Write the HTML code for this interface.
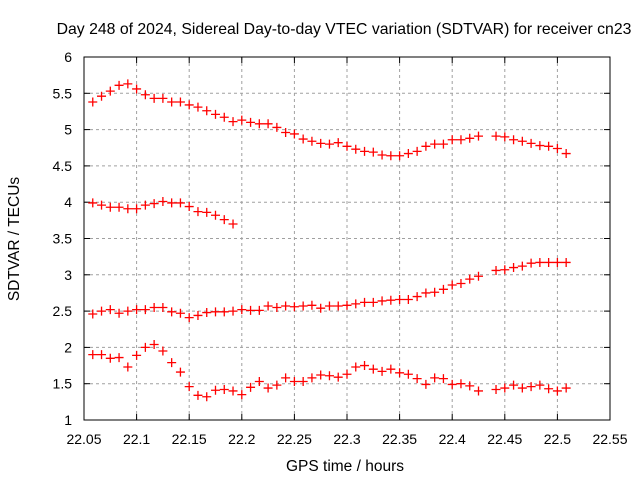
<!DOCTYPE html>
<html><head><meta charset="utf-8"><style>
html,body{margin:0;padding:0;background:#fff;}
svg{display:block;font-family:"Liberation Sans",sans-serif;}
</style></head><body>
<svg id="chart" width="640" height="480">
<text x="344" y="34" text-anchor="middle" font-size="15.8">Day 248 of 2024, Sidereal Day-to-day VTEC variation (SDTVAR) for receiver cn23</text>
<text x="345" y="471" text-anchor="middle" font-size="15.5">GPS time / hours</text>
<text transform="translate(19,239) rotate(-90)" text-anchor="middle" font-size="15.5">SDTVAR / TECUs</text>
<g id="grid"></g><g id="axes"></g><g id="marks"></g>
</svg>
<script>
const xTicks=[22.05,22.1,22.15,22.2,22.25,22.3,22.35,22.4,22.45,22.5,22.55];
const xTickLabels=["22.05","22.1","22.15","22.2","22.25","22.3","22.35","22.4","22.45","22.5","22.55"];
const yTicks=[1,1.5,2,2.5,3,3.5,4,4.5,5,5.5,6];
const yTickLabels=["1","1.5","2","2.5","3","3.5","4","4.5","5","5.5","6"];
const tStart=22.05833, tStep=1/120;
const seriesA=[5.38,5.46,5.53,5.61,5.63,5.56,5.48,5.43,5.43,5.38,5.38,5.34,5.31,5.26,5.21,5.17,5.11,5.13,5.10,5.08,5.08,5.03,4.96,4.94,4.87,4.84,4.81,4.80,4.82,4.77,4.73,4.70,4.69,4.65,4.64,4.64,4.67,4.70,4.77,4.80,4.80,4.86,4.86,4.88,4.91,null,4.91,4.90,4.86,4.84,4.81,4.78,4.77,4.74,4.67];
const seriesB=[3.99,3.96,3.93,3.93,3.91,3.91,3.96,3.98,4.01,3.99,3.99,3.94,3.87,3.86,3.82,3.76,3.70];
const seriesC=[2.46,2.50,2.52,2.47,2.50,2.52,2.52,2.55,2.55,2.49,2.47,2.41,2.44,2.48,2.49,2.49,2.50,2.52,2.51,2.51,2.57,2.55,2.57,2.56,2.57,2.58,2.54,2.57,2.57,2.58,2.60,2.62,2.62,2.64,2.65,2.66,2.66,2.70,2.75,2.76,2.80,2.86,2.88,2.94,2.98,null,3.06,3.07,3.10,3.12,3.16,3.17,3.17,3.17,3.17];
const seriesD=[1.90,1.90,1.85,1.86,1.73,1.89,2.00,2.04,1.95,1.79,1.66,1.46,1.34,1.32,1.41,1.42,1.40,1.35,1.45,1.53,1.44,1.48,1.58,1.53,1.53,1.58,1.62,1.61,1.59,1.63,1.73,1.75,1.70,1.67,1.70,1.65,1.63,1.57,1.49,1.58,1.57,1.49,1.50,1.47,1.40,null,1.42,1.44,1.48,1.44,1.46,1.48,1.43,1.40,1.44];

const X0=84,X1=610,Y0=420,Y1=57;
const xs=v=>X0+(v-22.05)/(0.5)*(X1-X0);
const ys=v=>Y0-(v-1)/5*(Y0-Y1);
const NS="http://www.w3.org/2000/svg";
function mk(tag,attrs,parent){const e=document.createElementNS(NS,tag);for(const k in attrs)e.setAttribute(k,attrs[k]);parent.appendChild(e);return e;}
const grid=document.getElementById('grid'),axes=document.getElementById('axes'),marks=document.getElementById('marks');
xTicks.forEach((t,i)=>{const x=xs(t);
 if(i>0&&i<xTicks.length-1){const g=mk('line',{x1:x,x2:x,y1:Y1,y2:Y0,stroke:'#a0a0a0','stroke-dasharray':'3,3'},grid);
 
 }
 mk('line',{x1:x,x2:x,y1:Y0,y2:Y0-6,stroke:'#000'},axes);
 mk('line',{x1:x,x2:x,y1:Y1,y2:Y1+6,stroke:'#000'},axes);
 const tx=mk('text',{x:x,y:Y0+24,'text-anchor':'middle','font-size':'14'},axes);tx.textContent=xTickLabels[i];
 
 
});
yTicks.forEach((t,i)=>{const y=ys(t);
 if(i>0&&i<yTicks.length-1){const g=mk('line',{x1:X0,x2:X1,y1:y,y2:y,stroke:'#a0a0a0','stroke-dasharray':'3,3'},grid);
 
 }
 mk('line',{x1:X0,x2:X0+6,y1:y,y2:y,stroke:'#000'},axes);
 mk('line',{x1:X1,x2:X1-6,y1:y,y2:y,stroke:'#000'},axes);
 const tx=mk('text',{x:X0-12,y:y+5,'text-anchor':'end','font-size':'14'},axes);tx.textContent=yTickLabels[i];
 
 
});
const fr=mk('rect',{x:X0,y:Y1,width:X1-X0,height:Y0-Y1,fill:'none',stroke:'#000','stroke-width':1},axes);


[seriesA,seriesB,seriesC,seriesD].forEach((s,si)=>{
 s.forEach((v,i)=>{ if(v===null)return;
  const x=xs(tStart+i*tStep),y=ys(v);
  const p=mk('path',{d:`M${x-4.5},${y}h9M${x},${y-4.5}v9`,stroke:'#ff0000','stroke-width':1.3,fill:'none'},marks);
  
  
 });
});
</script>
</body></html>
